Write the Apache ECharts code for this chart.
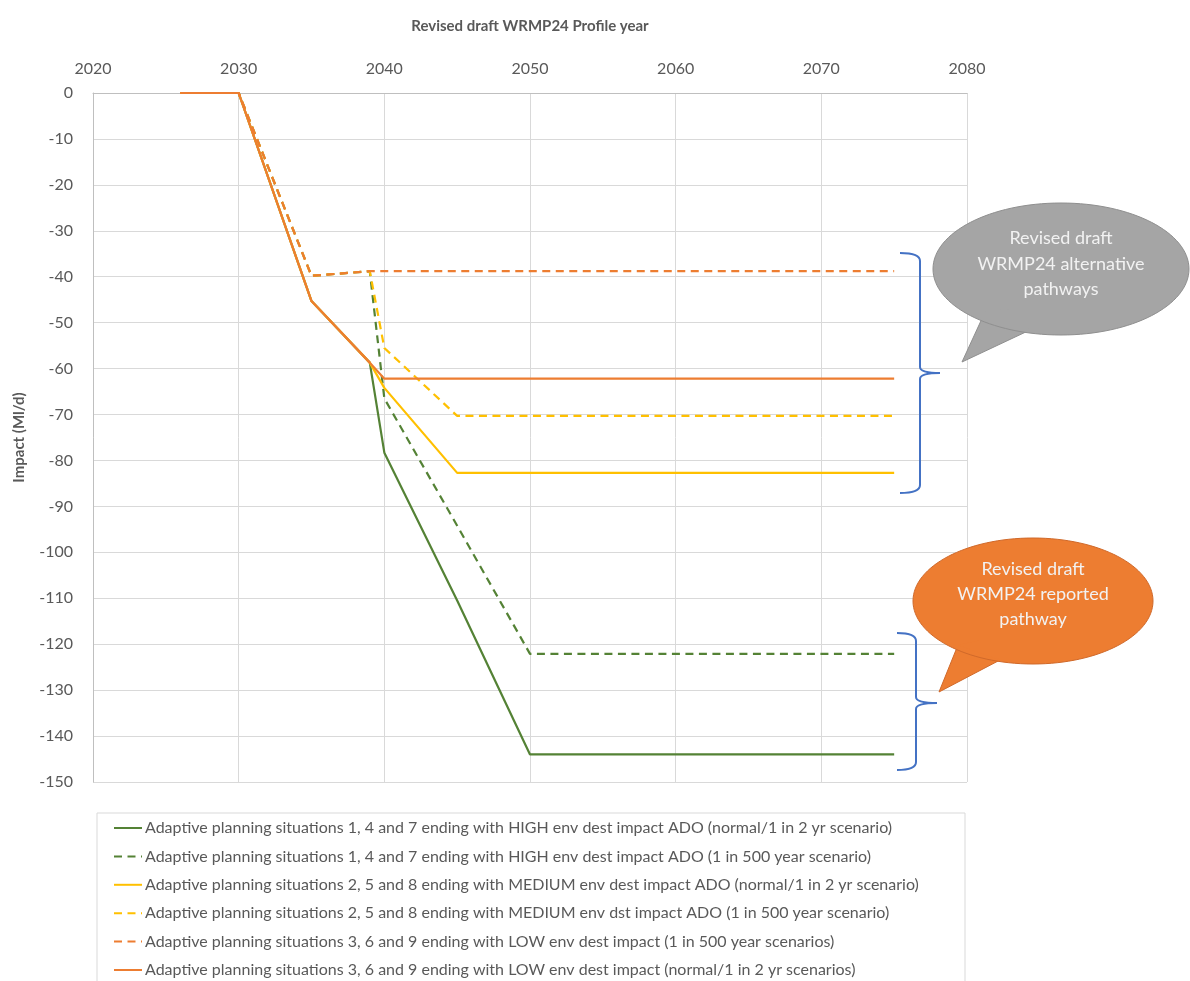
<!DOCTYPE html>
<html>
<head>
<meta charset="utf-8">
<script src="https://cdn.jsdelivr.net/npm/echarts@6/dist/echarts.min.js"></script>
<style>
html,body{margin:0;padding:0;background:#fff;}
#chart{width:1190px;height:981px;}
</style>
</head>
<body>
<div id="chart"></div>
<script>
// ---- data ----
const seriesNames = [
  "Adaptive planning situations 1, 4 and 7 ending with HIGH env dest impact ADO (normal/1 in 2 yr scenario)",
  "Adaptive planning situations 1, 4 and 7 ending with HIGH env dest impact ADO (1 in 500 year scenario)",
  "Adaptive planning situations 2, 5 and 8 ending with MEDIUM env dest impact ADO (normal/1 in 2 yr scenario)",
  "Adaptive planning situations 2, 5 and 8 ending with MEDIUM env dst impact ADO (1 in 500 year scenario)",
  "Adaptive planning situations 3, 6 and 9 ending with LOW env dest impact (1 in 500 year scenarios)",
  "Adaptive planning situations 3, 6 and 9 ending with LOW env dest impact (normal/1 in 2 yr scenarios)"
];
const highNormal   = [[2026,0],[2030,0],[2035,-45.3],[2039,-58.7],[2040,-78.3],[2045,-110.5],[2050,-144],[2075,-144]];
const high500      = [[2026,0],[2030,0],[2035,-39.8],[2039,-38.8],[2040,-66.5],[2045,-94.2],[2050,-122.1],[2075,-122.1]];
const mediumNormal = [[2026,0],[2030,0],[2035,-45.3],[2039,-58.7],[2040,-64.2],[2045,-82.7],[2075,-82.7]];
const medium500    = [[2026,0],[2030,0],[2035,-39.8],[2039,-38.8],[2040,-55.5],[2045,-70.3],[2075,-70.3]];
const low500       = [[2026,0],[2030,0],[2035,-39.8],[2039,-38.8],[2075,-38.8]];
const lowNormal    = [[2026,0],[2030,0],[2035,-45.3],[2039,-58.7],[2040,-62.2],[2075,-62.2]];
const seriesData = [highNormal, high500, mediumNormal, medium500, low500, lowNormal];
const seriesColors = ["#548235","#548235","#ffc000","#ffc000","#ed7d31","#ed7d31"];
const seriesDashed = [false,true,false,true,true,false];
const xTicks = {min:2020, max:2080, interval:10};
const yTicks = {min:-150, max:0, interval:10};

const FONT = "Lato, 'Open Sans', sans-serif";
const TXT = "#595959";
const chart = echarts.init(document.getElementById('chart'), null, {renderer:'canvas'});

const series = seriesData.map((d,i)=>({
  name: seriesNames[i],
  type: 'line',
  data: d,
  symbol: 'none',
  showSymbol: false,
  silent: true,
  animation: false,
  lineStyle: {color: seriesColors[i], width: 2.2, type: seriesDashed[i] ? [8,5.5] : 'solid', cap: 'butt'},
  itemStyle: {color: seriesColors[i]},
  z: 2 + i
}));

function brace(xl, yTop, xv, yTip, xt, yBot){
  const c = '#4472c4', w = 2;
  const st = {stroke:c, lineWidth:w, fill:null};
  return [
    {type:'bezierCurve', shape:{x1:xl, y1:yTop, cpx1:xv, cpy1:yTop, x2:xv, y2:yTop+8}, style:st, z:100},
    {type:'line', shape:{x1:xv, y1:yTop+8, x2:xv, y2:yTip-6}, style:st, z:100},
    {type:'bezierCurve', shape:{x1:xv, y1:yTip-6, cpx1:xv, cpy1:yTip, x2:xt, y2:yTip}, style:st, z:100},
    {type:'bezierCurve', shape:{x1:xt, y1:yTip, cpx1:xv, cpy1:yTip, x2:xv, y2:yTip+6}, style:st, z:100},
    {type:'line', shape:{x1:xv, y1:yTip+6, x2:xv, y2:yBot-8}, style:st, z:100},
    {type:'bezierCurve', shape:{x1:xv, y1:yBot-8, cpx1:xv, cpy1:yBot, x2:xl, y2:yBot}, style:st, z:100}
  ];
}

function bubble(cx, cy, rx, ry, tail, fill, stroke, lines, lineY){
  const els = [
    {type:'polygon', shape:{points:tail}, style:{fill:fill, stroke:stroke, lineWidth:1}, z:100},
    {type:'ellipse', shape:{cx:cx, cy:cy, rx:rx, ry:ry}, style:{fill:fill, stroke:stroke, lineWidth:1}, z:101},
    {type:'polygon', shape:{points:tail.slice(1).concat([[ (tail[1][0]+tail[2][0])/2, (tail[1][1]+tail[2][1])/2 - 12 ]])}, style:{fill:fill}, z:102}
  ];
  lines.forEach((t,k)=>{
    els.push({type:'text', x:cx, y:lineY[k], style:{text:t, fill:'#f2f2f2', font:"18px " + FONT, textAlign:'center', textVerticalAlign:'middle'}, z:103});
  });
  return els;
}

const graphics = [
  {type:'rect', shape:{x:97, y:813, width:868, height:190}, style:{fill:null, stroke:'#d9d9d9', lineWidth:1}, z:0, silent:true}
]
.concat(brace(900, 253, 920, 373, 940, 493))
.concat(brace(897, 633, 916, 703, 937, 770))
.concat(bubble(1061, 269, 128, 66, [[962,362],[985,312],[1030,330]], '#a5a5a5', '#8f8f8f',
  ['Revised draft','WRMP24 alternative','pathways'], [238,264,289]))
.concat(bubble(1033, 601, 120, 63, [[939,692],[958,645],[1000,660]], '#ed7d31', '#d0692a',
  ['Revised draft','WRMP24 reported','pathway'], [569,594,619]));

chart.setOption({
  backgroundColor: '#ffffff',
  animation: false,
  textStyle: {fontFamily: FONT},
  grid: {left:93, right:223, top:93, bottom:199, containLabel:false, outerBoundsMode:'none'},
  xAxis: {
    type: 'value',
    position: 'top',
    min: xTicks.min, max: xTicks.max, interval: xTicks.interval,
    name: 'Revised draft WRMP24 Profile year',
    nameLocation: 'middle',
    nameGap: 59,
    nameTextStyle: {fontFamily: FONT, fontSize: 15, fontWeight: 'bold', color: TXT},
    axisLine: {show: true, lineStyle: {color: '#bfbfbf', width: 1}},
    axisTick: {show: false},
    axisLabel: {color: TXT, fontSize: 16, fontFamily: FONT, margin: 16, formatter: v => String(v)},
    splitLine: {show: true, lineStyle: {color: '#d9d9d9', width: 1}}
  },
  yAxis: {
    type: 'value',
    min: yTicks.min, max: yTicks.max, interval: yTicks.interval,
    name: 'Impact (Ml/d)',
    nameLocation: 'middle',
    nameGap: 66,
    nameRotate: 90,
    nameTextStyle: {fontFamily: FONT, fontSize: 15, fontWeight: 'bold', color: TXT},
    axisLine: {show: true, onZero: false, lineStyle: {color: '#bfbfbf', width: 1}},
    axisTick: {show: false},
    axisLabel: {color: TXT, fontSize: 16, fontFamily: FONT, margin: 20},
    splitLine: {show: true, lineStyle: {color: '#d9d9d9', width: 1}}
  },
  legend: {
    orient: 'vertical',
    left: 113,
    top: 820,
    height: 200,
    padding: 0,
    itemWidth: 28,
    itemHeight: 14,
    itemGap: 12.4,
    selectedMode: false,
    itemStyle: {color: 'rgba(0,0,0,0)', borderWidth: 0, opacity: 0},
    textStyle: {color: TXT, fontSize: 16, fontFamily: FONT, padding: [0,0,0,-2]},
    data: seriesNames.map((n,i)=>({name:n}))
  },
  graphic: graphics,
  series: series
});
</script>
</body>
</html>
